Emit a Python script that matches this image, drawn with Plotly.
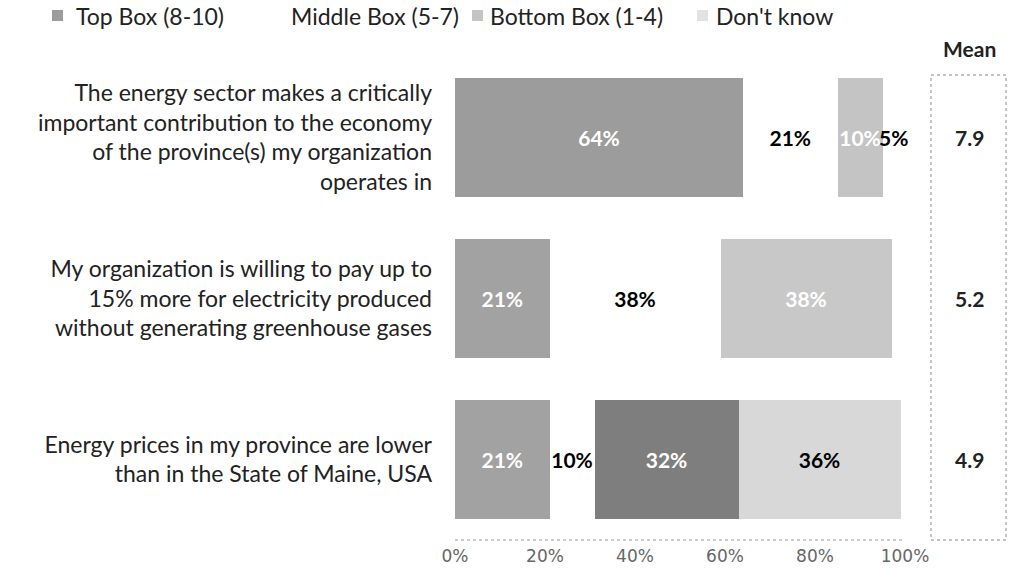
import plotly.graph_objects as go

categories = [
    "The energy sector makes a critically<br>important contribution to the economy<br>of the province(s) my organization<br>operates in",
    "My organization is willing to pay up to<br>15% more for electricity produced<br>without generating greenhouse gases",
    "Energy prices in my province are lower<br>than in the State of Maine, USA",
]
series_names = ["Top Box (8-10)", "Middle Box (5-7)", "Bottom Box (1-4)", "Don't know"]
top_box = [64, 21, 21]
middle_box = [21, 38, 10]
bottom_box = [10, 38, 32]
dont_know = [5, 4, 36]
means = ["7.9", "5.2", "4.9"]
x_ticks = [0, 20, 40, 60, 80, 100]
x_tick_labels = ["0%", "20%", "40%", "60%", "80%", "100%"]

FONT = "Lato"
FS = 23
W, H = 1015, 574
L, R, T, B = 455, 110, 57, 34
PW, PH = W - L - R, H - T - B

legend_colors = ["#9c9c9c", "#ffffff", "#c4c4c4", "#e2e2e2"]
point_colors = [
    ["#9c9c9c", "#a2a2a2", "#a2a2a2"],
    ["#ffffff", "#ffffff", "#ffffff"],
    ["#c4c4c4", "#c8c8c8", "#7e7e7e"],
    ["#ffffff", "#ffffff", "#d8d8d8"],
]
text_colors = ["white", "black", "white", "black"]

def px_x(px):
    return (px - L) / PW

def px_y(py):
    return (H - B - py) / PH

fig = go.Figure()
for i, (name, vals) in enumerate(zip(series_names, [top_box, middle_box, bottom_box, dont_know])):
    fig.add_trace(go.Bar(
        y=categories, x=vals, orientation="h", name=name,
        marker=dict(color=point_colors[i], line=dict(width=0)),
        text=[f"{v}%" for v in vals], textposition="inside", textangle=0,
        insidetextanchor="middle", constraintext="none", cliponaxis=False,
        textfont=dict(family=FONT, size=21, color=text_colors[i], weight="bold"),
        showlegend=False,
    ))

fig.update_layout(
    barmode="stack",
    bargap=0.26,
    width=W, height=H,
    margin=dict(l=L, r=R, t=T, b=B, autoexpand=False),
    plot_bgcolor="white", paper_bgcolor="white",
    font=dict(family=FONT, size=FS, color="#222"),
    showlegend=False,
    xaxis=dict(
        range=[0, 100], tickvals=x_ticks, ticktext=x_tick_labels,
        showgrid=False, zeroline=False, showline=False, automargin=False,
        tickfont=dict(family="DejaVu Sans", size=17, color="#666"),
        ticks="", fixedrange=True, ticklabelstandoff=4,
    ),
    yaxis=dict(
        autorange="reversed", showgrid=False, zeroline=False, showline=False,
        automargin=False,
        tickfont=dict(family=FONT, size=FS, color="#222"),
        ticks="", ticklabelstandoff=22,
    ),
)

# manual legend (text + colour squares)
legend_pos = [(52, 74), (273, 289), (472, 488), (697, 714)]
for name, col, (mx, tx) in zip(series_names, legend_colors, legend_pos):
    fig.add_shape(type="rect", xref="paper", yref="paper",
                  x0=px_x(mx), x1=px_x(mx + 11), y0=px_y(21), y1=px_y(10),
                  fillcolor=col, line=dict(width=0))
    fig.add_annotation(text=name, xref="paper", yref="paper",
                       x=px_x(tx), y=px_y(16), xanchor="left", yanchor="middle",
                       showarrow=False, font=dict(family=FONT, size=23, color="#222"))

# x axis dotted line
fig.add_shape(type="line", xref="x", yref="paper", x0=0, x1=100, y0=0, y1=0,
              line=dict(color="#999", width=1, dash="dot"))

# Mean column box
fig.add_shape(type="rect", xref="paper", yref="paper",
              x0=px_x(931), x1=px_x(1006), y0=0, y1=px_y(75),
              line=dict(color="#888", width=1, dash="dot"))
fig.add_annotation(text="<b>Mean</b>", xref="paper", yref="paper",
                   x=px_x(969), y=px_y(48), xanchor="center", yanchor="middle",
                   showarrow=False, font=dict(family=FONT, size=21, color="#222"))
for cat, m in zip(categories, means):
    fig.add_annotation(text=f"<b>{m}</b>", xref="paper", yref="y",
                       x=px_x(969), y=cat, xanchor="center", yanchor="middle",
                       showarrow=False, font=dict(family=FONT, size=21, color="#222"))

fig.write_html("out.html", config={"displayModeBar": False},
               post_script="document.body.style.margin='0px';")
